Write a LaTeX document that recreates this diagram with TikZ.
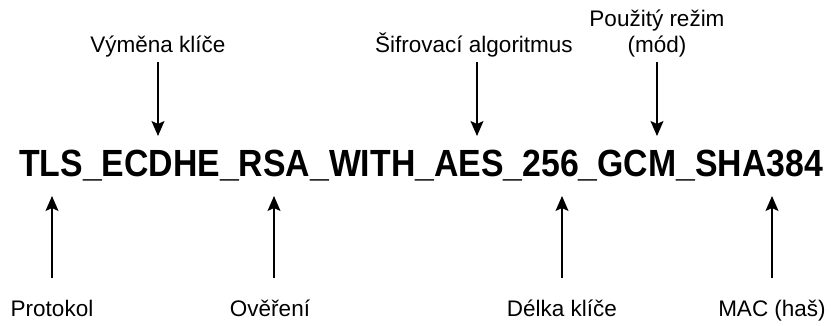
\documentclass[tikz,border=0pt]{standalone}
\usepackage{fontspec}
\setmainfont{Liberation Sans}
\usetikzlibrary{arrows.meta}
\begin{document}
\begin{tikzpicture}[x=1pt,y=-1pt,
  lbl/.style={font=\fontsize{22.5}{26}\selectfont, inner sep=0pt, anchor=base},
  arr/.style={line width=1.4pt, -{Stealth[length=15pt,width=13pt,inset=3pt]}}]
\useasboundingbox (0,0) rectangle (838,326);
\node[inner sep=0pt, anchor=base west, font=\bfseries\fontsize{33.8}{36}\selectfont] (main) at (19,176) {\scalebox{1}[1.12]{TLS\_ECDHE\_RSA\_WITH\_AES\_256\_GCM\_SHA384}};
\node[lbl] (vk) at (158,53) {Výměna klíče};
\node[lbl] (sa) at (474,53) {Šifrovací algoritmus};
\node[lbl] (pr1) at (657,27) {Použitý režim};
\node[lbl] (pr) at (657,53) {(mód)};
\node[lbl] (pt) at (52,316) {Protokol};
\node[lbl] (ov) at (270,316) {Ověření};
\node[lbl] (dk) at (562,316) {Délka klíče};
\node[lbl] (mac) at (772,316) {MAC (haš)};
\coordinate (a1s) at (158,62); \coordinate (a1e) at (158,136);
\coordinate (a2s) at (477,62); \coordinate (a2e) at (477,136);
\coordinate (a3s) at (657,62); \coordinate (a3e) at (657,136);
\coordinate (b1s) at (52,278); \coordinate (b1e) at (52,196);
\coordinate (b2s) at (274,278); \coordinate (b2e) at (274,196);
\coordinate (b3s) at (562,278); \coordinate (b3e) at (562,196);
\coordinate (b4s) at (772,278); \coordinate (b4e) at (772,196);
\draw[arr] (a1s) -- (a1e);
\draw[arr] (a2s) -- (a2e);
\draw[arr] (a3s) -- (a3e);
\draw[arr] (b1s) -- (b1e);
\draw[arr] (b2s) -- (b2e);
\draw[arr] (b3s) -- (b3e);
\draw[arr] (b4s) -- (b4e);
\end{tikzpicture}
\end{document}
